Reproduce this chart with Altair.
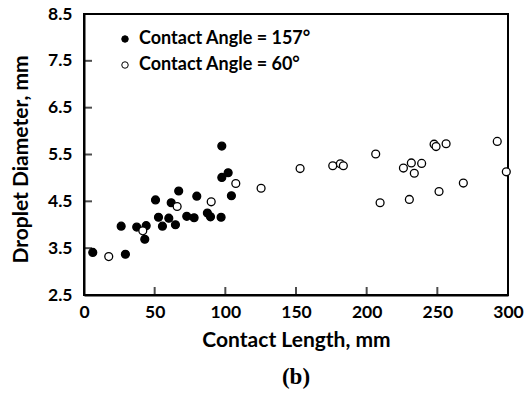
import altair as alt
import pandas as pd

series_names = ["Contact Angle = 157°", "Contact Angle = 60°"]

# Contact angle 157° (filled)
x157 = [6.2, 26.3, 29.3, 37.3, 44.0, 43.0, 50.6, 52.7, 55.5, 60.0, 61.7, 64.7,
        67.0, 72.7, 77.9, 79.8, 87.3, 89.5, 97.0, 97.5, 97.5, 102.0, 104.3]
y157 = [3.41, 3.97, 3.37, 3.95, 3.98, 3.69, 4.53, 4.16, 3.97, 4.14, 4.47, 4.00,
        4.72, 4.18, 4.15, 4.61, 4.25, 4.17, 4.16, 5.68, 5.01, 5.11, 4.62]

# Contact angle 60° (open)
x60 = [17.5, 41.6, 65.9, 90.0, 107.4, 125.3, 152.9, 176.0, 181.4, 183.5, 206.4,
       209.5, 226.0, 231.6, 233.7, 238.9, 230.2, 247.7, 249.1, 256.2, 251.2,
       268.4, 292.4, 298.8]
y60 = [3.32, 3.87, 4.39, 4.49, 4.88, 4.78, 5.20, 5.26, 5.30, 5.26, 5.51,
       4.47, 5.21, 5.32, 5.10, 5.31, 4.54, 5.72, 5.67, 5.73, 4.71,
       4.89, 5.78, 5.13]

x_ticks = [0, 50, 100, 150, 200, 250, 300]
y_ticks = [2.5, 3.5, 4.5, 5.5, 6.5, 7.5, 8.5]

df = pd.DataFrame({
    "length": x157 + x60,
    "diameter": y157 + y60,
    "series": [series_names[0]] * len(x157) + [series_names[1]] * len(x60),
})
xt = pd.DataFrame({"length": x_ticks[1:-1], "diameter": [y_ticks[0]] * (len(x_ticks) - 2)})
yt = pd.DataFrame({"length": [x_ticks[0]] * (len(y_ticks) - 2), "diameter": y_ticks[1:-1]})

FONT = "Lato"

xscale = alt.Scale(domain=[0, 300], nice=False, zero=False)
yscale = alt.Scale(domain=[2.5, 8.5], nice=False, zero=False)

xaxis = alt.Axis(values=x_ticks, title="Contact Length, mm", tickSize=0,
                 labelPadding=8, titlePadding=9, labelFont=FONT, titleFont=FONT,
                 labelFontSize=17.5, titleFontSize=21, labelFontWeight="bold",
                 titleFontWeight="bold", labelColor="black", titleColor="black",
                 domainColor="black", domainWidth=2, grid=False, labelFlush=False)
yaxis = alt.Axis(values=y_ticks, title="Droplet Diameter, mm", tickSize=0,
                 labelPadding=12, titlePadding=16, labelFont=FONT, titleFont=FONT,
                 labelFontSize=17.5, titleFontSize=21, labelFontWeight="bold",
                 titleFontWeight="bold", labelColor="black", titleColor="black",
                 domainColor="black", domainWidth=2, grid=False, format=".1f",
                 labelFlush=False, titleY=145)

points = alt.Chart(df).mark_point(shape="circle", filled=True, stroke="black",
                                   strokeWidth=1.3, size=62, opacity=1).encode(
    x=alt.X("length:Q", scale=xscale, axis=xaxis),
    y=alt.Y("diameter:Q", scale=yscale, axis=yaxis),
    fill=alt.Fill("series:N", scale=alt.Scale(domain=series_names, range=["black", "white"]),
                  legend=alt.Legend(title=None, orient="none", legendX=32, legendY=16,
                                    labelFont=FONT, labelFontSize=18, labelFontWeight="bold",
                                    labelColor="black", symbolSize=42, symbolStrokeColor="black",
                                    symbolStrokeWidth=1, rowPadding=8, labelOffset=5,
                                    labelLimit=0)),
    order=alt.Order("series:N", sort="ascending"),
)

xticks_layer = alt.Chart(xt).mark_tick(orient="vertical", color="black", size=8,
                                        thickness=2, yOffset=-4).encode(
    x=alt.X("length:Q", scale=xscale, axis=xaxis),
    y=alt.Y("diameter:Q", scale=yscale, axis=yaxis),
)
yticks_layer = alt.Chart(yt).mark_tick(orient="horizontal", color="black", size=8,
                                        thickness=2, xOffset=4).encode(
    x=alt.X("length:Q", scale=xscale, axis=xaxis),
    y=alt.Y("diameter:Q", scale=yscale, axis=yaxis),
)

chart = alt.layer(points, xticks_layer, yticks_layer).properties(
    width=424, height=281,
    padding={"left": 84, "top": 14, "right": 22, "bottom": 100},
    autosize=alt.AutoSizeParams(type="none"),
    title=alt.TitleParams("(b)", orient="bottom", font="Liberation Serif",
                          fontSize=23, fontWeight="bold", color="black", offset=15),
    background="white",
).configure_view(stroke="black", strokeWidth=2)

chart.save("out.html", embed_options={"renderer": "svg", "actions": False})
